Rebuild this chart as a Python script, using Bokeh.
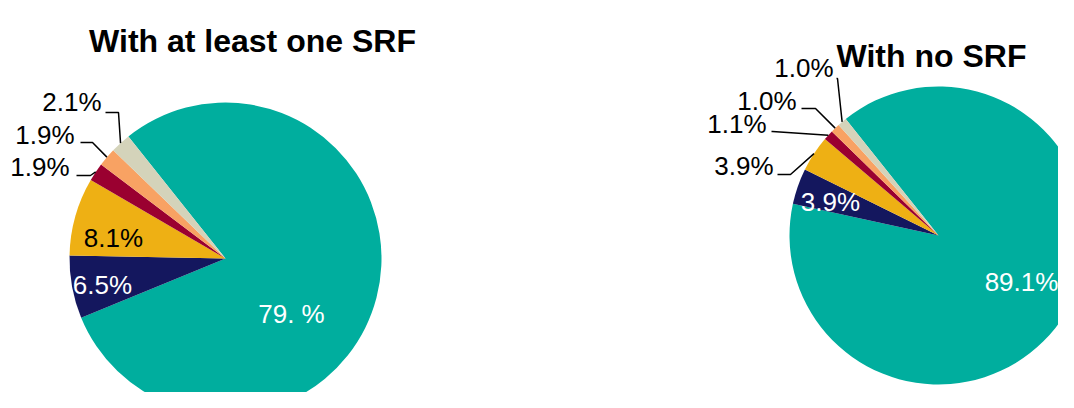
import math
from bokeh.plotting import figure
from bokeh.models import Range1d
from bokeh.core.properties import value
from bokeh.embed import file_html
from bokeh.resources import INLINE

# ---------------- data ----------------
slice_names = ["Other", "A", "B", "C", "D", "E"]
colors = ["#00AE9E", "#14175E", "#EEB014", "#9A0030", "#F8A263", "#D4D3BA"]

left_title = "With at least one SRF"
left_values = [79.5, 6.5, 8.1, 1.9, 1.9, 2.1]
left_labels = ["79. %", "6.5%", "8.1%", "1.9%", "1.9%", "2.1%"]

right_title = "With no SRF"
right_values = [89.1, 3.9, 3.9, 1.1, 1.0, 1.0]
right_labels = ["89.1%", "3.9%", "3.9%", "1.1%", "1.0%", "1.0%"]

# ---------------- layout ----------------
W, H = 1058, 392
FONT = "Liberation Sans"
LABEL_SIZE = "26px"
TITLE_SIZE = "32px"
START_DEG = 128.5


def img(x, y):
    """convert reference-image pixel coords to figure data coords"""
    return x, H - y


p = figure(width=W, height=H, output_backend="svg", toolbar_location=None,
           x_range=Range1d(0, W), y_range=Range1d(0, H),
           x_axis_location=None, y_axis_location=None, min_border=0)
p.grid.visible = False
p.outline_line_color = None
p.background_fill_color = "white"


def draw_pie(center, radius, values, labels, title, title_pos, label_layout):
    cx, cy = img(*center)
    total = sum(values)
    cum = 0.0
    mids = []
    for v, c in zip(values, colors):
        a0 = math.radians(START_DEG - cum / total * 360.0)
        cum += v
        a1 = math.radians(START_DEG - cum / total * 360.0)
        p.wedge(x=cx, y=cy, radius=radius, start_angle=a0, end_angle=a1,
                direction="clock", fill_color=c, line_color=None)
        mids.append((a0 + a1) / 2)
    tx, ty = img(*title_pos)
    p.text(x=[tx], y=[ty], text=[title], text_font=value(FONT),
           text_font_size=TITLE_SIZE, text_font_style="bold",
           text_align="center", text_baseline="alphabetic", text_color="black")
    for i, lay in enumerate(label_layout):
        kind = lay[0]
        if kind == "in":
            _, pos, col = lay
            x, y = img(*pos)
            p.text(x=[x], y=[y], text=[labels[i]], text_font=value(FONT),
                   text_font_size=LABEL_SIZE, text_align="center",
                   text_baseline="middle", text_color=col)
        else:
            _, pos, start, elbow = lay
            x, y = img(*pos)
            p.text(x=[x], y=[y], text=[labels[i]], text_font=value(FONT),
                   text_font_size=LABEL_SIZE, text_align="right",
                   text_baseline="middle", text_color="black")
            sx, sy = img(*start)
            ex, ey = img(*elbow)
            px = cx + radius * math.cos(mids[i])
            py = cy + radius * math.sin(mids[i])
            p.line(x=[sx, ex, px], y=[sy, ey, py], line_color="black",
                   line_width=1.5)


left_layout = [
    ("in", (291, 313), "white"),
    ("in", (102, 284), "white"),
    ("in", (113, 237), "black"),
    ("out", (69, 166), (76, 175), (90, 175)),
    ("out", (74, 134), (80, 142), (92, 142)),
    ("out", (101, 101), (105, 112), (118, 112)),
]
right_layout = [
    ("in", (1021, 281), "white"),
    ("in", (830, 201), "white"),
    ("out", (773, 165), (777, 174), (790, 174)),
    ("out", (766, 123), (771, 131), (772, 131)),
    ("out", (796, 100), (801, 108), (815, 108)),
    ("out", (833, 67), (836, 78), (837, 78)),
]

draw_pie((225, 258), 156, left_values, left_labels, left_title, (252, 40), left_layout)
draw_pie((938, 235), 149, right_values, right_labels, right_title, (931, 55), right_layout)

open("out.html", "w").write(file_html(p, INLINE))
